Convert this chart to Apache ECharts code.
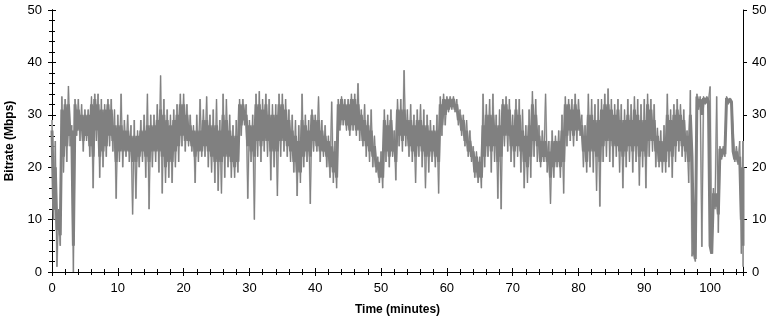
<!DOCTYPE html>
<html>
<head>
<meta charset="utf-8">
<script src="https://cdn.jsdelivr.net/npm/echarts@6/dist/echarts.min.js"></script>
<style>
html, body { margin: 0; padding: 0; background: #fff; }
#bitrate { width: 776px; height: 322px; }
</style>
</head>
<body>
<div id="bitrate"></div>
<script>
// one column every half minute (Mbps)
// peakHi/peakLo: outermost spikes in the column, coreHi/coreLo: the dense band
var stepMin = 0.5;
var peakHi = [
    29, 25, 12, 33.5, 33, 35.5, 28, 33, 33, 32,          // 0 - 4.5
    31, 31, 33.5, 34, 34, 33, 32, 33, 33, 31,            // 5 - 9.5
    30, 34, 29, 30, 28, 29, 27, 29, 30, 34,              // 10 - 14.5
    30, 30, 32, 37.5, 33, 31, 30, 31, 32, 34,            // 15 - 19.5
    34, 32, 30, 28, 30, 33, 31, 33.5, 30, 31,            // 20 - 24.5
    33, 29, 34, 33, 30, 28, 29, 33, 33, 32,              // 25 - 29.5
    29, 30, 34, 34.5, 33, 34, 33, 32, 32, 34,            // 30 - 34.5
    34, 33, 31, 30, 29, 28, 34, 30, 29, 31,              // 35 - 39.5
    30, 33.5, 29, 28, 26, 32.5, 25, 33, 33.5, 33,        // 40 - 44.5
    33, 34, 34, 36, 31, 32, 30, 31, 26, 22,              // 45 - 49.5
    23, 31, 30, 31, 27, 33, 33, 38.5, 31, 32,            // 50 - 54.5
    30, 31, 32, 31, 30, 29, 28, 30, 33.5, 34,            // 55 - 59.5
    33.5, 33.5, 33.5, 33, 31, 30, 29, 27, 24, 23,        // 60 - 64.5
    22, 34, 32, 33, 34, 30, 31, 33, 33.5, 33,            // 65 - 69.5
    30, 33, 33, 31, 28, 31, 34.5, 33, 28, 27,            // 70 - 74.5
    34, 25, 27, 26, 27, 30, 33.5, 33, 33, 34,            // 75 - 79.5
    33, 30, 28, 34, 33, 32, 33, 33, 34, 35,              // 80 - 84.5
    33, 32, 33, 32, 31, 33, 32, 33.5, 33, 32,            // 85 - 89.5
    33, 34, 33, 32, 27.5, 27, 28, 34, 31, 32,            // 90 - 94.5
    33, 32, 31, 27, 34.7, 5, 34, 33.5, 33.5, 33.5,       // 95 - 99.5
    35.4, 16, 33.5, 24, 24, 33.5, 33.2, 27, 24, 25,      // 100 - 104.5
    25                                                   // 105
];
var peakLo = [
    10, 1, 5, 19, 21, 24, 0, 26, 25, 23,
    25, 22, 16, 25, 18, 20, 22, 24, 23, 14,
    21, 20, 22, 21, 11, 14, 20, 21, 18, 12,
    20, 21, 19, 15, 17, 18, 17, 20, 21, 24,
    23, 24, 23, 17, 21, 22, 22, 20, 19, 17,
    15.5, 15, 18, 20, 18, 18, 19, 26, 28, 14,
    21, 10, 22, 21, 23, 22, 17.5, 20, 14.5, 22,
    23, 22, 21, 19, 14.5, 17, 20, 21, 13, 23,
    23, 21, 22, 20, 18, 17, 16, 27, 28, 27,
    26, 27, 26, 25, 24, 22, 21, 20, 19, 17,
    16, 21, 20, 22, 17.5, 24, 23, 24, 22, 21,
    17, 22, 20, 16, 19, 21, 20, 15, 26, 28,
    30.5, 31, 30.5, 28, 26, 24, 22, 21, 18, 17,
    16, 20, 22, 19, 21, 14, 12, 24, 23, 21,
    20, 22, 19, 16, 17, 18, 22, 21, 20, 21,
    19, 13, 18, 20, 18, 15, 24, 25, 24, 25,
    26, 20, 19, 20, 19, 15.5, 12.5, 21, 22, 21,
    20, 22, 19, 16, 20, 21, 19, 21, 16.5, 20,
    16, 22, 23, 20, 20, 19, 19, 20, 18, 21,
    23, 22, 21, 17, 3, 2, 31, 4.8, 32, 32.5,
    3.5, 12, 7.5, 21.5, 22, 32, 32.3, 21, 20.5, 3.5,
    1
];
var coreHi = [
    27, 20, 11, 31, 32, 32, 27, 32, 31, 30,
    30, 30, 32, 33, 32, 31, 31, 32, 31, 28,
    28, 28, 27, 27, 26, 26, 26, 27, 27, 28,
    28, 28, 29, 31, 30, 29, 28, 29, 30, 32,
    32, 30, 28, 27, 27, 27, 29, 29, 28, 28,
    28, 27, 30, 29, 27, 26, 26, 32, 32, 30,
    28, 28, 32, 32, 31, 32, 30, 30, 30, 32,
    32, 31, 29, 27, 26, 25, 29, 28, 27, 30,
    29, 29, 27, 26, 25, 24, 23, 32, 33, 32,
    32, 33, 33, 32, 30, 29, 28, 27, 24, 21,
    21, 29, 28, 29, 25, 31, 31, 31, 29, 29,
    28, 29, 29, 28, 28, 27, 27, 27, 32, 33,
    33, 33, 33, 32, 30, 29, 27, 25, 23, 22,
    21, 28, 30, 30, 30, 28, 28, 32, 32, 31,
    28, 31, 30, 27, 26, 28, 32, 30, 26, 25,
    25, 23, 25, 25, 25, 27, 32, 32, 31, 32,
    31, 28, 26, 30, 30, 29, 29, 31, 32, 32,
    31, 30, 31, 29, 29, 30, 29, 31, 30, 29,
    29, 32, 31, 29, 26, 25, 25, 30, 29, 30,
    31, 30, 29, 26, 30, 4.5, 33.5, 33, 33.2, 33.2,
    5, 15, 15, 23.5, 23.5, 33.2, 33, 23, 23, 22,
    20
];
var coreLo = [
    12, 8, 7, 22, 24, 26, 5, 27, 27, 25,
    26, 24, 22, 27, 22, 23, 24, 26, 25, 21,
    23, 23, 23, 23, 21, 21, 22, 23, 22, 21,
    23, 23, 23, 22, 20, 21, 21, 23, 24, 26,
    25, 25, 24, 22, 23, 23, 24, 23, 22, 21,
    21, 21, 22, 22, 21, 20, 21, 28, 29, 24,
    23, 22, 25, 24, 25, 25, 23, 23, 23, 25,
    25, 24, 23, 21, 19, 19, 22, 23, 22, 25,
    24, 23, 23, 22, 20, 19, 18, 28, 29, 28,
    27, 28, 27, 27, 25, 24, 23, 22, 20, 18,
    18, 23, 22, 23, 21, 26, 25, 26, 24, 23,
    22, 24, 23, 22, 22, 23, 22, 21, 28, 30,
    31, 31.5, 31, 29, 27, 25, 23, 22, 19, 18,
    18, 22, 24, 23, 24, 21, 22, 26, 26, 24,
    23, 24, 23, 21, 20, 22, 25, 24, 21, 22,
    21, 18, 20, 21, 20, 21, 26, 27, 26, 27,
    27, 23, 21, 23, 23, 22, 21, 24, 25, 25,
    24, 24, 23, 22, 23, 24, 23, 24, 22, 23,
    22, 25, 25, 23, 21, 21, 21, 23, 22, 24,
    25, 24, 23, 21, 22, 2.5, 31.5, 30, 32.2, 32.6,
    3.5, 12.5, 11, 22, 22.5, 32.3, 32.5, 21.5, 21, 10,
    5
];
var timeTicks = [0, 10, 20, 30, 40, 50, 60, 70, 80, 90, 100];
var rateTicks = [0, 10, 20, 30, 40, 50];

//高低值交替排成一条折线(每半分钟一上一下)
function zigzag(hiList, loList) {
    var pts = [];
    for (var i = 0; i < hiList.length; i++) {
        var t = i * stepMin;
        pts.push([t, hiList[i]]);
        pts.push([Math.min(t + stepMin / 2, 105), loList[i]]);
    }
    return pts;
}

var spikeData = zigzag(peakHi, peakLo);
var coreData = zigzag(coreHi, coreLo);

var nameFont = {fontFamily: 'Liberation Sans', fontSize: 12, fontWeight: 'bold', color: '#000'};
var axisLine = {show: true, lineStyle: {color: '#000', width: 1}};

function makeAxis(pos, max, opt) {
    var a = {
        type: 'value', position: pos, min: 0, max: max, interval: 10,
        axisLine: axisLine, splitLine: {show: false},
        axisTick: {show: true, inside: true, length: 4, lineStyle: {color: '#000'}},
        minorTick: {show: true, splitNumber: 5, length: 3, lineStyle: {color: '#000'}},
        axisLabel: {show: false}
    };
    for (var k in opt) { a[k] = opt[k]; }
    return a;
}
function tickLabel(list, margin) {
    return {show: true, margin: margin, fontFamily: 'Liberation Sans', fontSize: 13, color: '#000',
        formatter: function (v) { return list.indexOf(v) >= 0 ? String(v) : ''; }};
}
var outTick = {show: true, inside: false, length: 4, lineStyle: {color: '#000'}};

var option = {
    animation: false,
    backgroundColor: '#fff',
    grid: {left: 52, right: 33, top: 10, bottom: 50, containLabel: false, outerBoundsMode: 'none'},
    xAxis: [
        makeAxis('bottom', 105, {
            name: 'Time (minutes)', nameLocation: 'middle', nameGap: 32, nameTextStyle: nameFont,
            axisLabel: tickLabel(timeTicks, 10)
        }),
        makeAxis('top', 105, {}),
        makeAxis('bottom', 105, {axisTick: outTick, minorTick: {show: false}})
    ],
    yAxis: [
        makeAxis('left', 50, {
            name: 'Bitrate (Mbps)', nameLocation: 'middle', nameGap: 36, nameTextStyle: nameFont,
            axisLabel: tickLabel(rateTicks, 10)
        }),
        makeAxis('right', 50, {axisLabel: tickLabel(rateTicks, 9)}),
        makeAxis('left', 50, {axisTick: outTick, minorTick: {show: false}}),
        makeAxis('right', 50, {axisTick: outTick, minorTick: {show: false}})
    ],
    series: [
        {
            type: 'line', data: spikeData, symbol: 'none', silent: true,
            lineStyle: {color: '#c4c4c4', width: 1.8, join: 'bevel'}
        },
        {
            type: 'line', data: spikeData, symbol: 'none', silent: true,
            lineStyle: {color: '#808080', width: 1, join: 'bevel'}
        },
        {
            type: 'line', data: coreData, symbol: 'none', silent: true,
            lineStyle: {color: '#808080', width: 3, join: 'bevel', cap: 'butt'}
        }
    ]
};

var bitrateChart = echarts.init(document.getElementById('bitrate'));
bitrateChart.setOption(option);
</script>
</body>
</html>
